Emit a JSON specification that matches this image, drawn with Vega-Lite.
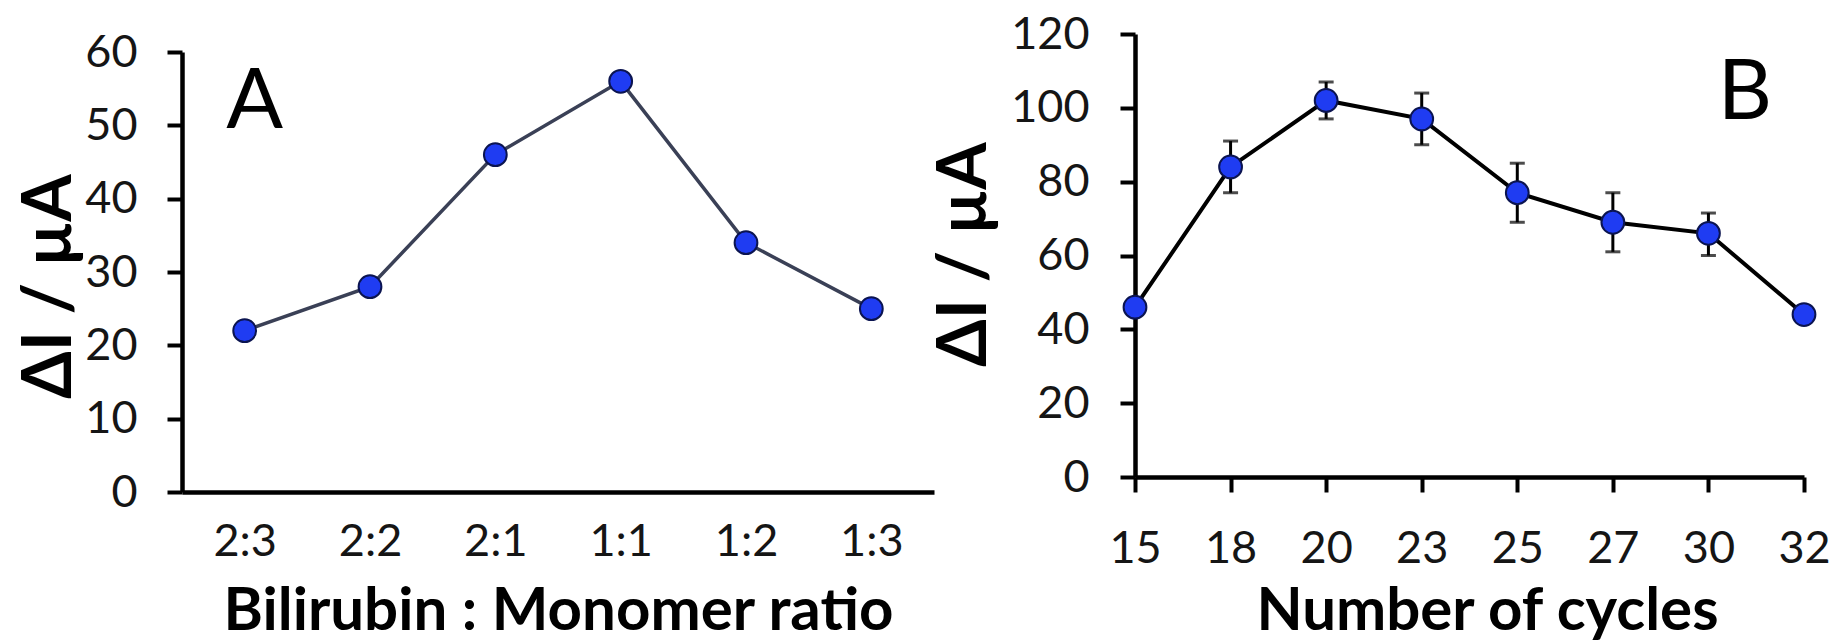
{
  "$schema": "https://vega.github.io/schema/vega-lite/v6.json",
  "background": "white",
  "padding": {"left": 16, "top": 12, "right": 0, "bottom": 0},
  "config": {
    "view": {"stroke": null},
    "font": "Lato",
    "axis": {
      "grid": false,
      "domainColor": "black",
      "domainWidth": 4.5,
      "tickColor": "black",
      "tickWidth": 4,
      "tickSize": 15,
      "labelFont": "Lato",
      "labelFontSize": 45,
      "labelColor": "#151515",
      "titleFont": "Lato",
      "titleColor": "black",
      "titleFontWeight": "bold"
    }
  },
  "datasets": {
    "ratio": [
      {"ratio": "2:3", "dI": 22},
      {"ratio": "2:2", "dI": 28},
      {"ratio": "2:1", "dI": 46},
      {"ratio": "1:1", "dI": 56},
      {"ratio": "1:2", "dI": 34},
      {"ratio": "1:3", "dI": 25}
    ],
    "cycles": [
      {"cycles": "15", "dI": 46, "lo": null, "hi": null},
      {"cycles": "18", "dI": 84, "lo": 77, "hi": 91},
      {"cycles": "20", "dI": 102, "lo": 97, "hi": 107},
      {"cycles": "23", "dI": 97, "lo": 90, "hi": 104},
      {"cycles": "25", "dI": 77, "lo": 69, "hi": 85},
      {"cycles": "27", "dI": 69, "lo": 61, "hi": 77},
      {"cycles": "30", "dI": 66, "lo": 60, "hi": 71.5},
      {"cycles": "32", "dI": 44, "lo": null, "hi": null}
    ],
    "labA": [{"ratio": "2:3", "dI": 49.7, "panel": "A"}],
    "labB": [{"cycles": "32", "dI": 97, "panel": "B"}]
  },
  "spacing": -4,
  "hconcat": [
    {
      "spacing": 0,
      "bounds": "flush",
      "vconcat": [
        {
          "width": 752,
          "height": 18,
          "data": {"values": []},
          "mark": {"type": "point", "opacity": 0},
          "encoding": {}
        },
        {
          "width": 752,
          "height": 440,
          "layer": [
            {
              "data": {"name": "ratio"},
              "mark": {"type": "line", "color": "#3a4056", "strokeWidth": 3.5},
              "encoding": {
                "x": {
                  "field": "ratio", "type": "ordinal", "sort": null,
                  "scale": {"type": "point", "padding": 0.5, "domain": ["2:3", "2:2", "2:1", "1:1", "1:2", "1:3"]},
                  "axis": {
                    "title": "Bilirubin : Monomer ratio",
                    "titleFontSize": 60,
                    "titleBaseline": "alphabetic",
                    "titleY": 137,
                    "ticks": false,
                    "labelPadding": 27,
                    "labelAngle": 0
                  }
                },
                "y": {
                  "field": "dI", "type": "quantitative",
                  "scale": {"domain": [0, 60], "nice": false},
                  "axis": {
                    "title": "ΔI / µA",
                    "titleFontSize": 68,
                    "titleBaseline": "alphabetic",
                    "titleX": -112,
                    "titleY": 234,
                    "values": [0, 10, 20, 30, 40, 50, 60],
                    "labelPadding": 30
                  }
                }
              }
            },
            {
              "data": {"name": "ratio"},
              "mark": {"type": "point", "shape": "circle", "filled": true, "fill": "#1f3cf2", "stroke": "#0b1450", "strokeWidth": 2, "size": 520, "opacity": 1},
              "encoding": {
                "x": {"field": "ratio", "type": "ordinal", "sort": null},
                "y": {"field": "dI", "type": "quantitative"}
              }
            },
            {
              "data": {"name": "labA"},
              "mark": {"type": "text", "font": "Lato", "fontSize": 84, "color": "black", "align": "center", "baseline": "alphabetic", "dx": 10},
              "encoding": {
                "x": {"field": "ratio", "type": "ordinal", "sort": null},
                "y": {"field": "dI", "type": "quantitative"},
                "text": {"field": "panel"}
              }
            }
          ]
        }
      ]
    },
    {
      "width": 669,
      "height": 443,
      "layer": [
        {
          "data": {"name": "cycles"},
          "transform": [{"filter": "datum.lo != null"}],
          "mark": {"type": "rule", "color": "black", "strokeWidth": 3},
          "encoding": {
            "x": {
              "field": "cycles", "type": "ordinal", "sort": null,
              "scale": {"type": "point", "padding": 0, "domain": ["15", "18", "20", "23", "25", "27", "30", "32"]},
              "axis": {
                "title": "Number of cycles",
                "titleFontSize": 60,
                "titleBaseline": "alphabetic",
                "titleY": 152,
                "titleX": 352,
                "labelPadding": 34,
                "labelAngle": 0
              }
            },
            "y": {
              "field": "lo", "type": "quantitative",
              "scale": {"domain": [0, 120], "nice": false},
              "axis": {
                "title": "ΔI / µA",
                "titleFontSize": 68,
                "titleBaseline": "alphabetic",
                "titleX": -150,
                "titleY": 220,
                "values": [0, 20, 40, 60, 80, 100, 120],
                "labelPadding": 31
              }
            },
            "y2": {"field": "hi"}
          }
        },
        {
          "data": {"name": "cycles"},
          "transform": [{"filter": "datum.lo != null"}],
          "mark": {"type": "tick", "color": "black", "thickness": 3, "size": 15, "orient": "horizontal"},
          "encoding": {
            "x": {"field": "cycles", "type": "ordinal", "sort": null},
            "y": {"field": "lo", "type": "quantitative"}
          }
        },
        {
          "data": {"name": "cycles"},
          "transform": [{"filter": "datum.hi != null"}],
          "mark": {"type": "tick", "color": "black", "thickness": 3, "size": 15, "orient": "horizontal"},
          "encoding": {
            "x": {"field": "cycles", "type": "ordinal", "sort": null},
            "y": {"field": "hi", "type": "quantitative"}
          }
        },
        {
          "data": {"name": "cycles"},
          "mark": {"type": "line", "color": "black", "strokeWidth": 4},
          "encoding": {
            "x": {"field": "cycles", "type": "ordinal", "sort": null},
            "y": {"field": "dI", "type": "quantitative"}
          }
        },
        {
          "data": {"name": "cycles"},
          "mark": {"type": "point", "shape": "circle", "filled": true, "fill": "#1f3cf2", "stroke": "#0b1450", "strokeWidth": 2, "size": 520, "opacity": 1},
          "encoding": {
            "x": {"field": "cycles", "type": "ordinal", "sort": null},
            "y": {"field": "dI", "type": "quantitative"}
          }
        },
        {
          "data": {"name": "labB"},
          "mark": {"type": "text", "font": "Lato", "fontSize": 84, "color": "black", "align": "right", "baseline": "alphabetic", "dx": -32},
          "encoding": {
            "x": {"field": "cycles", "type": "ordinal", "sort": null},
            "y": {"field": "dI", "type": "quantitative"},
            "text": {"field": "panel"}
          }
        }
      ]
    }
  ]
}
